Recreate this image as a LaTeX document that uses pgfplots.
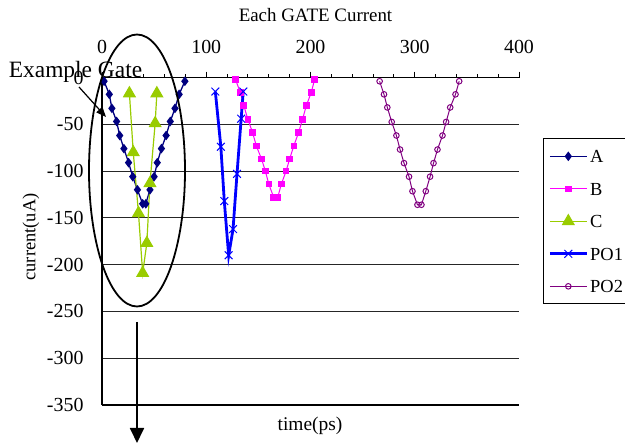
\documentclass[border=0pt]{standalone}
\usepackage{fontspec}
\setmainfont{Liberation Serif}
\usepackage{pgfplots}
\pgfplotsset{compat=1.18}
\usetikzlibrary{arrows.meta}

\definecolor{gA}{RGB}{0,0,128}
\definecolor{gB}{RGB}{255,0,255}
\definecolor{gC}{RGB}{153,204,0}
\definecolor{gPOa}{RGB}{0,0,255}
\definecolor{gPOb}{RGB}{128,0,128}

\begin{document}
\begin{tikzpicture}
\path[use as bounding box] (0,0) rectangle (625bp,444bp);
\begin{axis}[
  at={(102bp,39bp)}, anchor=south west,
  scale only axis, width=417bp, height=327.5bp,
  xmin=0, xmax=400, ymin=-350, ymax=0,
  axis x line*=top, axis y line*=left,
  axis line style={-, line width=1.6bp},
  xtick={0,100,...,400}, minor xtick={20,40,...,380},
  ytick={-350,-300,...,0},
  tick align=outside,
  major tick length=6bp, minor tick length=3.5bp,
  xtick style={black, line width=1bp},
  ytick style={draw=none},
  ymajorgrids, grid style={black!85, line width=0.8bp},
  tick label style={font=\fontsize{20}{20}\selectfont},
  /pgf/number format/assume math mode=true,
  xticklabel style={yshift=14bp},
  yticklabel style={xshift=-9bp},
  clip=false,
  legend cell align=left,
  legend style={at={(1.0576,0.814)}, anchor=north west, draw=black,
    line width=0.8bp, inner xsep=5bp, inner ysep=9bp, row sep=15.5bp,
    font=\fontsize{18.5}{18.5}\selectfont,
    nodes={inner sep=2bp, text height=13bp, text depth=0bp}},
  legend image code/.code={\draw[mark repeat=2,mark phase=2,#1]
    plot coordinates {(0bp,0bp) (18.5bp,0bp) (37bp,0bp)};},
]
\addplot[gA, line width=1.3bp, mark=diamond*, mark size=3.8bp] coordinates {
  (2,-4) (7,-18) (9.5,-33) (14,-47) (17,-62) (21,-76) (25.5,-91) (29.5,-106)
  (34,-120) (39,-135) (42,-135) (46,-120) (50,-106) (53,-91) (57,-76)
  (61.5,-62) (65.5,-47) (70,-33) (74,-18) (79.5,-4)};
\addlegendentry{A}
\addplot[gB, line width=1bp, mark=square*, mark size=2.8bp] coordinates {
  (128,-2) (132.7,-16) (136,-30) (140,-45) (144.5,-59) (148,-73) (153,-87)
  (156.7,-100) (160,-114) (164.7,-128) (168.6,-128) (172,-114) (176.6,-100)
  (180,-87) (184,-73) (188.5,-59) (192.3,-45) (196,-30) (200.7,-16) (204,-2)};
\addlegendentry{B}
\addplot[gC, line width=1.2bp, mark=triangle*, mark size=6.5bp] coordinates {
  (26.3,-17) (30,-80) (35,-145) (39,-209) (43,-177) (46,-113) (51,-49) (52.6,-17)};
\addlegendentry{C}
\addplot[gPOa, line width=2.8bp, mark=x, mark size=5.5bp, mark options={line width=1bp}] coordinates {
  (108.7,-15) (114,-74) (117.3,-132) (121.5,-190) (125.7,-162) (129.5,-103)
  (133.5,-44) (135.5,-15)};
\addlegendentry{PO1}
\addplot[gPOb, line width=1bp, mark=o, mark size=2.8bp] coordinates {
  (266.3,-4) (270.5,-18) (273.7,-32) (277.9,-47.5) (282.4,-62) (285.9,-77)
  (289.7,-91.5) (294.5,-106) (297.8,-121.5) (302.6,-136) (306.4,-136)
  (310.6,-121.5) (314.7,-106) (318,-91.5) (321.8,-77) (326.6,-62)
  (330.1,-47.5) (334,-32) (339.1,-18) (342.6,-4)};
\addlegendentry{PO2}
\draw[black, line width=1.6bp] (axis cs:0,-350) -- (axis cs:400,-350);
\end{axis}
\node[font=\fontsize{19}{19}\selectfont] at (315.5bp,428.5bp) {Each GATE Current};
\node[font=\fontsize{19.5}{19.5}\selectfont] at (310bp,18bp) {time(ps)};
\node[rotate=90, font=\fontsize{18.5}{18.5}\selectfont] at (31bp,207bp) {current(uA)};
\draw[line width=1.8bp] (137bp,273.5bp) ellipse [x radius=48bp, y radius=136bp];
\node[font=\fontsize{23.5}{23.5}\selectfont, anchor=base, inner sep=0pt] at (75.5bp,366bp) {Example Gate};
\draw[line width=1.2bp, -{Triangle[length=10bp,width=8bp]}] (79bp,357bp) -- (106bp,327bp);
\draw[line width=1.8bp, -{Triangle[length=15bp,width=14bp]}] (137bp,122bp) -- (137bp,1bp);
\end{tikzpicture}
\end{document}
